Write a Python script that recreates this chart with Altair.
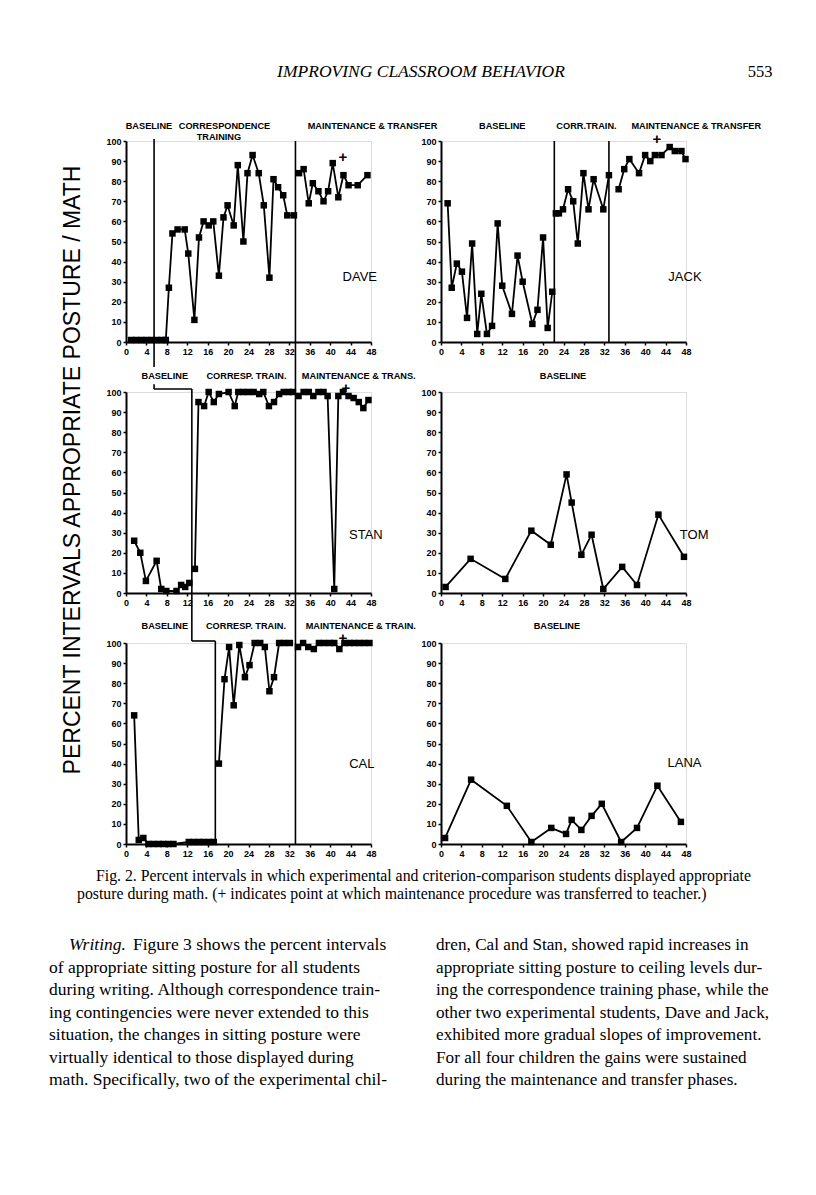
import altair as alt
import pandas as pd

W, H = 245, 201

# ---------------- data (session, percent) ----------------
DAVE_SESSION = [1, 2, 3, 4, 5, 6, 7, 7.8, 8.4, 9.1, 10.1, 11.5, 12.2, 13.4, 14.3, 15.2, 16.2, 17.1,
                18.2, 19.1, 19.9, 21.1, 21.9, 23.0, 23.8, 24.8, 26.0, 27.0, 28.1, 28.9, 29.8, 30.8,
                31.6, 32.9, 33.9, 34.8, 35.8, 36.6, 37.7, 38.7, 39.6, 40.5, 41.6, 42.6, 43.6, 45.4, 47.3]
DAVE_VALUE = [1, 1, 1, 1, 1, 1, 1, 1, 27, 54, 56, 56, 44, 11, 52, 60, 58, 60,
              33, 62, 68, 58, 88, 50, 84, 93, 84, 68, 32, 81, 77, 73,
              63, 63, 84, 86, 69, 79, 75, 70, 75, 89, 72, 83, 78, 78, 83]

JACK_SESSION = [1.3, 2.1, 3.1, 4.1, 5.1, 6.1, 7.1, 7.9, 9.0, 10.0, 11.1, 12.0, 13.9, 15.0, 16.0, 17.9,
                18.9, 20.0, 20.9, 21.8, 22.5, 23.1, 23.9, 24.9, 25.9, 26.8, 27.9, 28.9, 29.9, 31.8,
                32.9, 34.8, 35.9, 36.9, 38.8, 40.0, 41.0, 41.9, 43.2, 44.8, 45.8, 47.1, 47.9]
JACK_VALUE = [69, 27, 39, 35, 12, 49, 4, 24, 4, 8, 59, 28, 14, 43, 30, 9,
              16, 52, 7, 25, 64, 64, 66, 76, 70, 49, 84, 66, 81, 66,
              83, 76, 86, 91, 84, 93, 90, 93, 93, 97, 95, 95, 91]

STAN_SESSION = [1.6, 2.8, 3.9, 6.0, 6.9, 7.9, 9.9, 10.8, 11.6, 12.4, 13.5, 14.2, 15.3, 16.2, 17.2,
                18.2, 20.1, 21.3, 22.0, 23.0, 24.0, 25.0, 26.1, 26.9, 28.0, 29.0, 30.0, 30.9, 31.9,
                32.7, 33.8, 34.8, 35.8, 36.7, 37.7, 38.7, 39.5, 40.8, 41.6, 42.5, 43.6, 44.6, 45.6,
                46.5, 47.5]
STAN_VALUE = [26, 20, 6, 16, 2, 1, 1, 4, 3, 5, 12, 95, 93, 100, 95,
              99, 100, 93, 100, 100, 100, 100, 99, 100, 93, 95, 99, 100, 100,
              100, 98, 100, 100, 98, 100, 100, 98, 2, 98, 100, 98, 97, 95,
              92, 96]

TOM_SESSION = [0.9, 5.8, 12.6, 17.7, 21.5, 24.6, 25.6, 27.5, 29.5, 31.8, 35.5, 38.4, 42.6, 47.6]
TOM_VALUE = [3, 17, 7, 31, 24, 59, 45, 19, 29, 2, 13, 4, 39, 18]

CAL_SESSION = [1.6, 2.5, 3.4, 4.4, 5.4, 6.4, 7.3, 8.3, 9.3, 12.3, 13.3, 14.3, 15.2, 16.2, 17.2,
               18.2, 19.3, 20.2, 21.1, 22.2, 23.3, 24.2, 25.2, 26.3, 27.2, 28.1, 29.0, 30.0, 31.0,
               32.1, 33.7, 34.7, 35.7, 36.8, 37.8, 38.8, 39.9, 40.8, 41.8, 42.8, 43.8, 44.7, 45.7,
               46.7, 47.7]
CAL_VALUE = [64, 2, 3, 0, 0, 0, 0, 0, 0, 1, 1, 1, 1, 1, 1,
             40, 82, 98, 69, 99, 83, 89, 100, 100, 98, 76, 83, 100, 100,
             100, 98, 100, 98, 97, 100, 100, 100, 100, 97, 100, 100, 100, 100,
             100, 100]

LANA_SESSION = [0.8, 5.9, 12.9, 17.7, 21.6, 24.5, 25.6, 27.5, 29.5, 31.5, 35.3, 38.4, 42.4, 47.0]
LANA_VALUE = [3, 32, 19, 1, 8, 5, 12, 7, 14, 20, 1, 8, 29, 11]

# phase changes (session where the data path is broken)
DAVE_BREAKS = [33.2]
JACK_BREAKS = [22.2, 32.9]
STAN_BREAKS = [12.9, 33.2]
CAL_BREAKS = [17.5, 33.2]

# session at which maintenance was transferred to the teacher (+)
DAVE_PLUS = [42.5, 92]
JACK_PLUS = [42.3, 101]
STAN_PLUS = [43.1, 102]
CAL_PLUS = [42.5, 102.3]

# ---------------- text ----------------
HEADER = "IMPROVING CLASSROOM BEHAVIOR"
PAGE_NO = "553"
Y_TITLE = "PERCENT INTERVALS APPROPRIATE POSTURE / MATH"
CAPTION = [
    "Fig. 2. Percent intervals in which experimental and criterion-comparison students displayed appropriate",
    "posture during math. (+ indicates point at which maintenance procedure was transferred to teacher.)",
]
BODY_FIRST_ITALIC = "Writing."
BODY_FIRST_REST = "Figure 3 shows the percent intervals"
BODY_LEFT = [
    "of appropriate sitting posture for all students",
    "during writing. Although correspondence train-",
    "ing contingencies were never extended to this",
    "situation, the changes in sitting posture were",
    "virtually identical to those displayed during",
    "math. Specifically, two of the experimental chil-",
]
BODY_RIGHT = [
    "dren, Cal and Stan, showed rapid increases in",
    "appropriate sitting posture to ceiling levels dur-",
    "ing the correspondence training phase, while the",
    "other two experimental students, Dave and Jack,",
    "exhibited more gradual slopes of improvement.",
    "For all four children the gains were sustained",
    "during the maintenance and transfer phases.",
]

# ---------------- styling ----------------
SANS = "Liberation Sans"
SERIF = "Liberation Serif"
SX = alt.Scale(domain=[0, 48], nice=False, zero=False)
SY = alt.Scale(domain=[0, 100], nice=False)
AXX = alt.Axis(values=list(range(0, 49, 4)), title=None, grid=False, labelFont=SANS,
               labelFontWeight="bold", labelFontSize=9, labelColor="black", labelFlush=False,
               labelPadding=2, domainColor="black", domainWidth=2, tickColor="black",
               tickSize=3, tickWidth=1.5)
AXY = alt.Axis(values=list(range(0, 101, 10)), title=None, grid=False, labelFont=SANS,
               labelFontWeight="bold", labelFontSize=9, labelColor="black",
               labelPadding=2, domainColor="black", domainWidth=2, tickColor="black",
               tickSize=3, tickWidth=1.5)


def X(f="x"):
    return alt.X(f + ":Q", scale=SX, axis=AXX)


def Y(f="y"):
    return alt.Y(f + ":Q", scale=SY, axis=AXY)


def txt(s, x, y, size, font=SERIF, style="normal", align="left", weight="normal", angle=0):
    return alt.Chart(pd.DataFrame({"t": [s]})).mark_text(
        font=font, fontSize=size, fontStyle=style, fontWeight=weight, align=align, angle=angle,
        baseline="middle", color="black").encode(x=alt.value(x), y=alt.value(y), text="t:N")


def panel(sessions, values, breaks, phase_lines, labels, name, name_xy, plus=None, extra=None):
    seg = [sum(1 for b in breaks if s > b) for s in sessions]
    df = pd.DataFrame({"x": sessions, "y": values, "seg": seg})
    base = alt.Chart(df)
    layers = [
        base.mark_line(color="black", strokeWidth=1.8).encode(x=X(), y=Y(), detail="seg:N"),
        base.mark_square(size=42, color="black", opacity=1).encode(x=X(), y=Y()),
    ]
    if phase_lines:
        ph = pd.DataFrame(phase_lines, columns=["x", "y", "x2", "y2"])
        layers.append(alt.Chart(ph).mark_rule(color="black", strokeWidth=1.6).encode(
            x=X(), y=Y(), x2="x2:Q", y2="y2:Q"))
    lab = pd.DataFrame(labels, columns=["x", "y", "t"])
    layers.append(alt.Chart(lab).mark_text(font=SANS, fontWeight="bold", fontSize=9.2,
                                           color="black", baseline="middle", align="center").encode(
        x=X(), y=Y(), text="t:N"))
    nm = pd.DataFrame({"x": [name_xy[0]], "y": [name_xy[1]], "t": [name]})
    layers.append(alt.Chart(nm).mark_text(font=SANS, fontSize=13, color="black",
                                          baseline="middle", align="center").encode(
        x=X(), y=Y(), text="t:N"))
    if plus is not None:
        pl = pd.DataFrame({"x": [plus[0]], "y": [plus[1]], "t": ["+"]})
        layers.append(alt.Chart(pl).mark_text(font=SANS, fontSize=15, fontWeight="bold",
                                              color="black", baseline="middle", align="center").encode(
            x=X(), y=Y(), text="t:N"))
    if extra is not None:
        layers.extend(extra)
    return alt.layer(*layers).properties(width=W, height=H)


# invisible anchor fixing the page's top-left corner (white on white)
anchor = alt.Chart(pd.DataFrame({"a": [0]})).mark_rule(color="white", strokeWidth=1).encode(
    x=alt.value(-117), y=alt.value(-132), y2=alt.value(-131))

header_layers = [
    anchor,
    txt(HEADER, 295, -69, 17.5, style="italic", align="center"),
    txt(PAGE_NO, 634, -69, 16.5, align="center"),
]

dave = panel(DAVE_SESSION, DAVE_VALUE, DAVE_BREAKS,
             [(5.5, 101, 5.5, 0), (33.2, 100, 33.2, 0)],
             [(4.5, 107.5, "BASELINE"), (19.3, 107.5, "CORRESPONDENCE"), (18.2, 102, "TRAINING"),
              (48.3, 107.5, "MAINTENANCE & TRANSFER")],
             "DAVE", (45.8, 32.5), DAVE_PLUS, extra=header_layers)

jack = panel(JACK_SESSION, JACK_VALUE, JACK_BREAKS,
             [(22.2, 100, 22.2, 0), (32.9, 100, 32.9, 0)],
             [(12.0, 107.5, "BASELINE"), (28.5, 107.5, "CORR.TRAIN."),
              (50.0, 107.5, "MAINTENANCE & TRANSFER")],
             "JACK", (47.8, 32.5), JACK_PLUS)

ytitle = txt(Y_TITLE, -53, 78, 23, font=SANS, align="center", angle=270)

stan = panel(STAN_SESSION, STAN_VALUE, STAN_BREAKS,
             [(5.5, 125, 5.5, 112.5), (5.5, 103.8, 5.5, 101.5), (5.5, 101.5, 12.9, 101.5),
              (12.9, 101.5, 12.9, 0), (33.2, 125, 33.2, 0)],
             [(7.6, 108, "BASELINE"), (23.6, 108, "CORRESP. TRAIN."),
              (45.6, 108, "MAINTENANCE & TRANS.")],
             "STAN", (47.0, 29), STAN_PLUS, extra=[ytitle])

tom = panel(TOM_SESSION, TOM_VALUE, [], [],
            [(23.9, 108, "BASELINE")],
            "TOM", (49.6, 29))

footer_layers = [
    txt(CAPTION[0], -30, 233, 15.8),
    txt(CAPTION[1], -49, 251, 15.8),
    txt(BODY_FIRST_ITALIC, -57, 302, 17.5, style="italic"),
    txt(BODY_FIRST_REST, 7, 302, 17.5),
]
for i, line in enumerate(BODY_LEFT):
    footer_layers.append(txt(line, -77, 302 + (i + 1) * 22.5, 17.5))
for i, line in enumerate(BODY_RIGHT):
    footer_layers.append(txt(line, 310, 302 + i * 22.5, 17.2))

cal = panel(CAL_SESSION, CAL_VALUE, CAL_BREAKS,
            [(12.9, 125, 12.9, 101), (12.9, 101, 17.5, 101), (17.5, 101, 17.5, 0),
             (33.2, 125, 33.2, 0)],
            [(7.6, 108.5, "BASELINE"), (23.5, 108.5, "CORRESP. TRAIN."),
             (46.0, 108.5, "MAINTENANCE & TRAIN.")],
            "CAL", (46.2, 40), CAL_PLUS, extra=footer_layers)

lana = panel(LANA_SESSION, LANA_VALUE, [], [],
             [(22.7, 108.5, "BASELINE")],
             "LANA", (47.7, 40.3))

chart = alt.concat(
    dave, jack, stan, tom, cal, lana,
    columns=2, spacing={"row": 50, "column": 70}, bounds="flush",
).properties(
    padding=0
).configure_view(stroke="transparent").configure(background="white")

chart.save("out.html", embed_options={"renderer": "svg", "actions": False})
